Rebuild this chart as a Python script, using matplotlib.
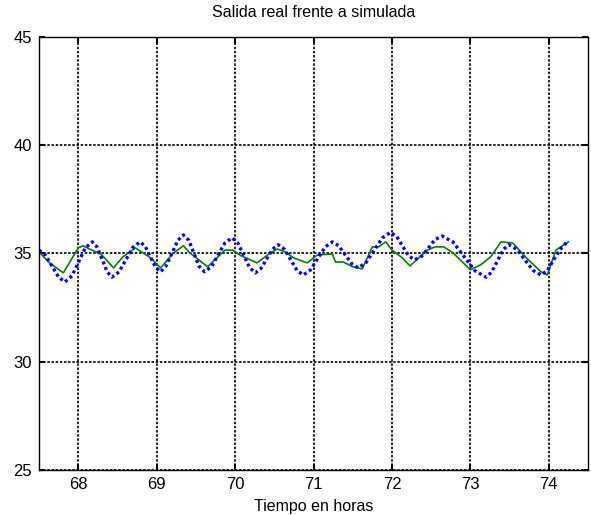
import matplotlib.pyplot as plt

# curva simulada (azul punteada)
t_sim = [67.5, 67.58, 67.665, 67.75, 67.83,
         67.92, 68.005, 68.09, 68.18,
         68.24, 68.305, 68.37, 68.43,
         68.52, 68.61, 68.70, 68.79,
         68.855, 68.92, 68.985, 69.05,
         69.12, 69.195, 69.27, 69.34,
         69.41, 69.475, 69.54, 69.61,
         69.70, 69.785, 69.87, 69.96,
         70.035, 70.11, 70.185, 70.26,
         70.33, 70.405, 70.48, 70.55,
         70.63, 70.71, 70.79, 70.87,
         70.96, 71.055, 71.15, 71.24,
         71.32, 71.405, 71.49, 71.57,
         71.67, 71.775, 71.88, 71.98,
         72.06, 72.135, 72.21, 72.29,
         72.38, 72.465, 72.55, 72.64,
         72.78, 72.92, 73.06, 73.2,
         73.27, 73.345, 73.42, 73.49,
         73.59, 73.695, 73.80, 73.9,
         73.98, 74.07, 74.15, 74.23]
y_sim = [35.15, 34.93, 34.42, 33.9, 33.68,
         33.96, 34.6, 35.25, 35.53,
         35.29, 34.72, 34.14, 33.9,
         34.14, 34.72, 35.29, 35.53,
         35.32, 34.84, 34.36, 34.15,
         34.41, 35.0, 35.6, 35.85,
         35.6, 35.0, 34.41, 34.15,
         34.39, 34.94, 35.48, 35.72,
         35.48, 34.91, 34.34, 34.1,
         34.3, 34.75, 35.2, 35.4,
         35.19, 34.7, 34.21, 34.0,
         34.23, 34.77, 35.3, 35.53,
         35.35, 34.93, 34.51, 34.33,
         34.58, 35.15, 35.72, 35.97,
         35.78, 35.34, 34.89, 34.7,
         34.87, 35.25, 35.64, 35.8,
         35.52, 34.85, 34.19, 33.9,
         34.13, 34.65, 35.18, 35.4,
         35.19, 34.7, 34.21, 34.0,
         34.2, 34.75, 35.2, 35.53]

# salida real (verde)
t_real = [67.5, 67.62, 67.81, 68.0, 68.06, 68.3, 68.45, 68.57, 68.73, 68.92,
          69.05, 69.21, 69.34, 69.43, 69.65, 69.77, 69.87, 69.97, 70.07, 70.28,
          70.45, 70.54, 70.64, 70.74, 70.92, 71.05, 71.24, 71.28, 71.38, 71.5,
          71.62, 71.75, 71.83, 71.92, 72.0, 72.13, 72.23, 72.45, 72.55, 72.66,
          72.78, 73.0, 73.13, 73.26, 73.39, 73.54, 73.7, 73.9, 73.98, 74.09, 74.25]
y_real = [35.07, 34.6, 34.1, 35.25, 35.35, 34.93, 34.33, 34.84, 35.25, 34.8,
          34.33, 35.0, 35.35, 35.0, 34.38, 34.8, 35.15, 35.15, 34.9, 34.56,
          35.02, 35.2, 35.07, 34.8, 34.56, 34.93, 34.97, 34.6, 34.6, 34.38,
          34.28, 35.3, 35.3, 35.53, 35.15, 34.8, 34.42, 35.15, 35.3, 35.3,
          35.02, 34.24, 34.47, 34.84, 35.53, 35.48, 34.84, 34.15, 34.0, 35.15, 35.53]

xticks = [68, 69, 70, 71, 72, 73, 74]
yticks = [25, 30, 35, 40, 45]

plt.rcParams['font.family'] = ['Liberation Sans', 'DejaVu Sans']

fig = plt.figure(figsize=(5.91, 5.15), dpi=100)
ax = fig.add_axes([0.066, 0.0874, 0.929, 0.8413])

ax.plot(t_real, y_real, color=(0, 0.5, 0), linewidth=1.2)
ax.plot(t_sim, y_sim, color=(0, 0, 1), linewidth=2.4, linestyle=(0, (0.9, 0.9)))

ax.set_xlim(67.5, 74.5)
ax.set_ylim(25, 45)
ax.set_xticks(xticks)
ax.set_yticks(yticks)
ax.grid(True, color='black', linestyle=(0, (1.5, 1)), linewidth=1.2)
ax.tick_params(direction='in', top=True, right=True, length=4, width=1.5,
               pad=5, labelsize=12)
for s in ax.spines.values():
    s.set_linewidth(1.0)

ax.set_title('Salida real frente a simulada', fontsize=11.5, pad=14)
ax.set_xlabel('Tiempo en horas', fontsize=11.5, labelpad=5)

fig.savefig('out.png', dpi=100)
